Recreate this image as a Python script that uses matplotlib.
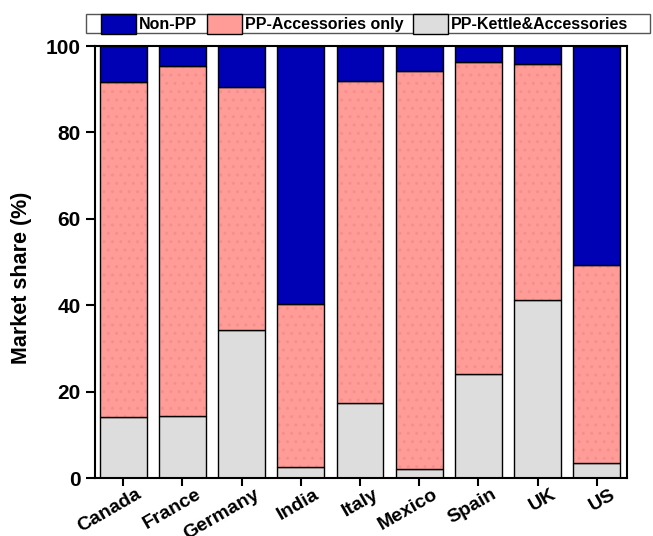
import matplotlib
matplotlib.use('Agg')
import matplotlib.pyplot as plt
from matplotlib.patches import Patch, Rectangle
from matplotlib.transforms import ScaledTranslation
import numpy as np

countries = ['Canada', 'France', 'Germany', 'India', 'Italy', 'Mexico', 'Spain', 'UK', 'US']
kettle_acc = [14.2, 14.4, 34.3, 2.5, 17.3, 2.1, 24.1, 41.2, 3.4]
acc_only = [77.5, 81.0, 56.1, 37.7, 74.7, 92.2, 72.3, 54.7, 46.0]
non_pp = [8.3, 4.6, 9.6, 59.8, 8.0, 5.7, 3.6, 4.1, 50.6]

plt.rcParams['font.family'] = ['Liberation Sans', 'DejaVu Sans']
plt.rcParams['font.weight'] = 'bold'

blue = '#0000B4'
pink = '#FF9C98'
dots = '#F4908C'
grey = '#DDDDDD'

W, H = 653, 536
fig = plt.figure(figsize=(W / 100, H / 100), dpi=100)
ax = fig.add_axes([95 / W, 1 - 478 / H, (627 - 95) / W, (478 - 46) / H])

x = np.arange(len(countries))
w = 0.79
b2 = np.array(kettle_acc)
b3 = b2 + np.array(acc_only)

ax.bar(x, kettle_acc, w, color=grey, edgecolor='black', linewidth=1.0)
ax.bar(x, acc_only, w, bottom=b2, color=pink, edgecolor=dots, linewidth=0, hatch='..')
ax.bar(x, acc_only, w, bottom=b2, color='none', edgecolor='black', linewidth=1.0)
ax.bar(x, non_pp, w, bottom=b3, color=blue, edgecolor='black', linewidth=1.0)

ax.set_xlim(-0.478, 8.51)
ax.set_ylim(0, 100)
ax.set_yticks([0, 20, 40, 60, 80, 100])
ax.set_xticks(x)
ax.set_xticklabels([])
ax.tick_params(axis='y', labelsize=15, width=1.5, length=6.5, pad=4)
ax.tick_params(axis='x', width=1.5, length=6)
for s in ax.spines.values():
    s.set_linewidth(1.5)

# rotated country labels, anchored at their right end
off = ScaledTranslation(17 / 100, -15 / 100, fig.dpi_scale_trans)
for i, name in enumerate(countries):
    ax.text(i, 0, name, transform=ax.get_xaxis_transform() + off,
            rotation=30, rotation_mode='anchor', ha='right', va='center',
            fontsize=14, fontweight='bold')

ax.set_ylabel('Market share (%)', fontsize=15.5, fontweight='bold')
ax.yaxis.set_label_coords(-0.118, 0.464)

# legend frame spanning the top
fig.patches.append(Rectangle((85.7 / W, 1 - 33.3 / H), (650 - 85.7) / W, 19 / H,
                             transform=fig.transFigure, facecolor='white',
                             edgecolor='#555555', linewidth=1.0, zorder=0))
handles = [Patch(facecolor=blue, edgecolor='black'),
           Patch(facecolor=pink, edgecolor='black'),
           Patch(facecolor=grey, edgecolor='black')]
labels = ['Non-PP', 'PP-Accessories only', 'PP-Kettle&Accessories']
fig.legend(handles, labels, ncol=3, loc='center left',
           bbox_to_anchor=(100.5 / W, 1 - 23.8 / H), frameon=False, fontsize=11.5,
           handlelength=2.2, handleheight=1.6, handletextpad=0.2,
           columnspacing=0.6, borderpad=0, borderaxespad=0)

fig.savefig('out.png', dpi=100)
